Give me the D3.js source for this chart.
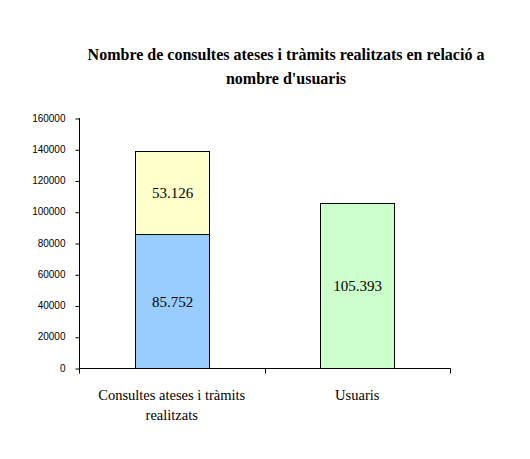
<!DOCTYPE html>
<html>
<head>
<meta charset="utf-8">
<script src="https://cdn.jsdelivr.net/npm/d3@7"></script>
<style>
body { margin: 0; background: #fff; }
svg text { fill: #000; }
</style>
</head>
<body>
<div id="chart"></div>
<script>
var categories = ["Consultes ateses i tràmits realitzats", "Usuaris"];
var categoryLines = [["Consultes ateses i tràmits", "realitzats"], ["Usuaris"]];
var consultes = [85752, 0];
var tramits = [53126, 0];
var usuaris = [0, 105393];
var valueLabels = ["85.752", "53.126", "105.393"];
var yTicks = [0, 20000, 40000, 60000, 80000, 100000, 120000, 140000, 160000];
var titleLines = ["Nombre de consultes ateses i tràmits realitzats en relació a", "nombre d'usuaris"];

var svgWidth = 530;
var svgHeight = 459;
var margin = { top: 118, left: 79, right: 80, bottom: 91 };
var width = 450 - margin.left;
var height = 368 - margin.top;

var svg = d3.select("#chart").append("svg")
    .attr("width", svgWidth)
    .attr("height", svgHeight);

// title
svg.append("text")
    .attr("x", 286)
    .attr("y", 60)
    .attr("text-anchor", "middle")
    .style("font-family", "'Liberation Serif', 'Times New Roman', serif")
    .style("font-size", "16px")
    .style("font-weight", "bold")
    .selectAll("tspan")
    .data(titleLines)
    .enter()
    .append("tspan")
    .attr("x", 286)
    .attr("dy", (d, i) => i === 0 ? 0 : 24)
    .text(d => d);

var chartGroup = svg.append("g")
    .attr("transform", `translate(${margin.left}, ${margin.top})`);

var x = d3.scaleBand()
    .domain(categories)
    .range([0, width])
    .paddingInner(0.6)
    .paddingOuter(0.3);

var y = d3.scaleLinear()
    .domain([0, 160000])
    .range([height, 0]);

// stacked data
var stackData = categories.map((c, i) => ({ cat: c, consultes: consultes[i], tramits: tramits[i], usuaris: usuaris[i] }));
var stack = d3.stack().keys(["consultes", "tramits", "usuaris"]);
var series = stack(stackData);
var colors = { consultes: "#99ccff", tramits: "#ffffcc", usuaris: "#ccffcc" };

var labelIdx = 0;
series.forEach(function(s) {
    s.forEach(function(d) {
        if (d[1] - d[0] <= 0) return;
        var bx = Math.round(x(d.data.cat)) + 0.5;
        var by0 = Math.round(y(d[0])) + 0.5;
        var by1 = Math.round(y(d[1])) + 0.5;
        chartGroup.append("rect")
            .attr("x", bx)
            .attr("y", by1)
            .attr("width", Math.round(x.bandwidth()))
            .attr("height", by0 - by1)
            .attr("fill", colors[s.key])
            .attr("stroke", "#000")
            .attr("stroke-width", 1);
        chartGroup.append("text")
            .attr("x", bx + x.bandwidth() / 2)
            .attr("y", (by0 + by1) / 2 + 5)
            .attr("text-anchor", "middle")
            .style("font-family", "'Liberation Serif', 'Times New Roman', serif")
            .style("font-size", "15px")
            .text(valueLabels[labelIdx++]);
    });
});

// y axis
var leftAxis = d3.axisLeft(y).tickValues(yTicks).tickSize(4).tickPadding(10).tickFormat(d => String(d));
var yAxis = chartGroup.append("g")
    .attr("transform", "translate(0.5,0)")
    .call(leftAxis);
yAxis.select(".domain").attr("d", `M0,${y(160000)}V${height + 0.5}`);
yAxis.selectAll(".tick line").attr("transform", "translate(0,0.5)");
yAxis.selectAll("text")
    .style("font-family", "'Liberation Sans', Arial, sans-serif")
    .style("font-size", "10px");

// x axis
var xAxis = chartGroup.append("g")
    .attr("transform", `translate(0, ${height + 0.5})`);
xAxis.append("line")
    .attr("x1", 0).attr("x2", width + 0.5)
    .attr("stroke", "#000");
[0, width / 2, width].forEach(function(t) {
    xAxis.append("line")
        .attr("x1", Math.round(t) + 0.5).attr("x2", Math.round(t) + 0.5)
        .attr("y1", 0).attr("y2", 5)
        .attr("stroke", "#000");
});

categories.forEach(function(c, i) {
    var t = xAxis.append("text")
        .attr("text-anchor", "middle")
        .style("font-family", "'Liberation Serif', 'Times New Roman', serif")
        .style("font-size", "14.5px");
    categoryLines[i].forEach(function(line, j) {
        t.append("tspan")
            .attr("x", x(c) + x.bandwidth() / 2)
            .attr("y", 31 + j * 20)
            .text(line);
    });
});
</script>
</body>
</html>
